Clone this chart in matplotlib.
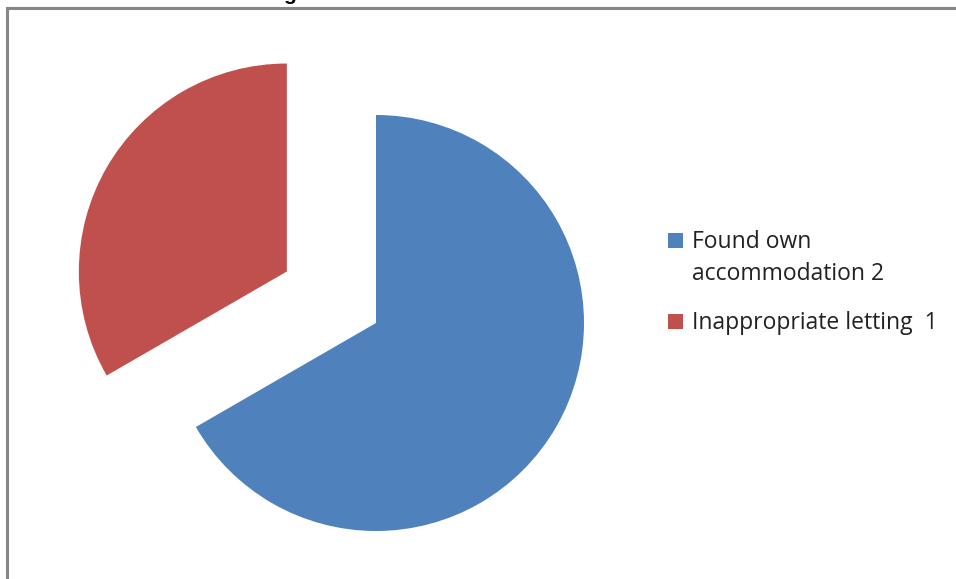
import matplotlib.pyplot as plt
from matplotlib.patches import Rectangle

labels = ['Found own\naccommodation 2', 'Inappropriate letting  1']
values = [2, 1]
colors = ['#4F81BD', '#C0504D']
explode = [0, 0.495]

W, H = 956, 579
cx, cy, r = 376, 323, 208  # pie centre and radius in pixels

fig = plt.figure(figsize=(W / 100, H / 100), dpi=100)
ax = fig.add_axes([0, 0, 1, 1])

wedges, _ = ax.pie(values, colors=colors, explode=explode, startangle=90,
                   counterclock=False, frame=False, wedgeprops=dict(linewidth=0))
ax.set_xlim(-cx / r, (W - cx) / r)
ax.set_ylim(-(H - cy) / r, cy / r)
ax.set_aspect('equal')
ax.axis('off')

# legend drawn by hand so the swatch sits on the first line of each label
baselines = [248, 329]
for w, lab, yb in zip(wedges, labels, baselines):
    fig.add_artist(Rectangle((668 / W, 1 - yb / H), 15 / W, 15 / H,
                             transform=fig.transFigure,
                             facecolor=w.get_facecolor(), edgecolor='none'))
    for i, line in enumerate(lab.split('\n')):
        fig.text(692 / W, 1 - (yb + 32 * i) / H, line, ha='left', va='baseline',
                 family='Open Sans', fontsize=16.5, color='#222222')

# chart area border (cut off at right and bottom)
fig.add_artist(Rectangle((7 / W, -0.1), 1.2, 1.1 - 8 / H, transform=fig.transFigure,
                         fill=False, edgecolor='#868686', linewidth=2.2))

# title, cut off at the top of the screenshot
fig.text(290 / W, 1 - 0.5 / H, 'g', ha='center', va='baseline',
         fontsize=15, fontweight='bold', family='Liberation Sans')

fig.savefig('out.png', dpi=100)
